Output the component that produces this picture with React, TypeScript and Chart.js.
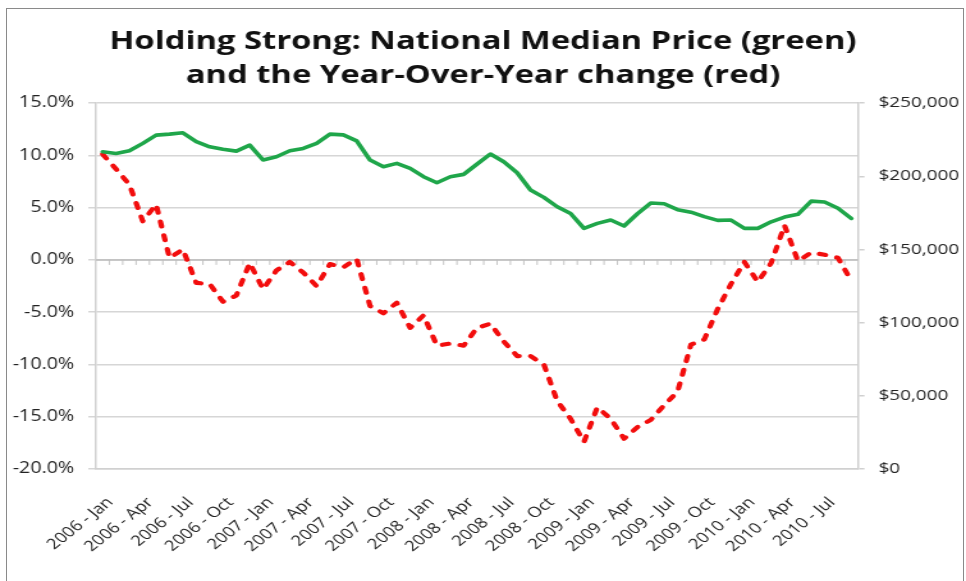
import React, { useEffect, useRef } from 'react';
import { Chart, registerables } from 'chart.js';

Chart.register(...registerables);

const YEARS = ['2006', '2007', '2008', '2009', '2010'];
const MONTHS = ['Jan', 'Feb', 'Mar', 'Apr', 'May', 'Jun', 'Jul', 'Aug', 'Sep', 'Oct', 'Nov', 'Dec'];
const MONTH_COUNT = 57; // Jan 2006 .. Sep 2010
const CATEGORIES: string[] = [];
YEARS.forEach((y) => MONTHS.forEach((m) => CATEGORIES.push(`${y} - ${m}`)));
const LABELS = CATEGORIES.slice(0, MONTH_COUNT);

const TITLE_LINES = [
  'Holding Strong: National Median Price (green)',
  'and the Year-Over-Year change (red)',
];

// Year-over-year change, percent (left axis)
const YOY_CHANGE = [
  10.1, 8.7, 7.2, 3.7, 5.3, 0.2, 1.0, -2.2, -2.3, -4.0, -3.4, -0.3,
  -2.8, -1.0, -0.2, -1.2, -2.5, -0.4, -0.7, 0.1, -4.4, -5.1, -4.1, -6.5,
  -5.3, -8.2, -8.0, -8.2, -6.5, -6.1, -7.8, -9.2, -9.2, -10.0, -13.5, -15.2,
  -17.4, -14.1, -15.2, -17.1, -16.0, -15.3, -13.9, -12.6, -8.1, -7.6, -4.7, -2.3,
  -0.2, -2.1, -0.3, 3.3, -0.1, 0.7, 0.5, 0.2, -2.0,
];

// National median price, dollars (right axis)
const MEDIAN_PRICE = [
  216700, 215600, 217400, 222500, 228100, 228800, 229700, 223600, 220100, 218400, 217200, 221300,
  211100, 213300, 217400, 219000, 222500, 228800, 228300, 224200, 211100, 206500, 208800, 205400,
  199700, 195600, 199700, 201300, 208300, 215200, 209900, 202400, 190600, 185600, 179200, 174600,
  164400, 167800, 170100, 166000, 174400, 181700, 181200, 177200, 175500, 172400, 169900, 170100,
  164400, 164400, 168900, 172100, 174000, 183000, 182400, 178100, 171200,
];

const PCT_MIN = -20;
const PCT_MAX = 15;
const PCT_STEP = 5;
const PRICE_MIN = 0;
const PRICE_MAX = 250000;
const PRICE_STEP = 50000;

const FONT = '"Open Sans", Lato, sans-serif';

// The reference picture is horizontally stretched; draw narrower and stretch with CSS.
const VIEW_W = 966;
const VIEW_H = 581;
const STRETCH = 1.28;
const CANVAS_W = Math.round(VIEW_W / STRETCH);

const zeroAxisPlugin = {
  id: 'zeroAxis',
  beforeDatasetsDraw(chart: any) {
    const { ctx, chartArea, scales } = chart;
    const y0 = scales.y.getPixelForValue(0);
    const xs = scales.x;
    const w = xs.getPixelForValue(1) - xs.getPixelForValue(0);
    ctx.save();
    ctx.strokeStyle = '#bdbdbd';
    ctx.lineWidth = 1.5;
    ctx.beginPath();
    ctx.moveTo(chartArea.left, y0);
    ctx.lineTo(chartArea.right, y0);
    ctx.stroke();
    ctx.lineWidth = 0.9;
    for (let i = 0; i < LABELS.length - 1; i++) {
      const x = xs.getPixelForValue(i) + w / 2;
      ctx.beginPath();
      ctx.moveTo(x, y0);
      ctx.lineTo(x, y0 + 5);
      ctx.stroke();
    }
    ctx.restore();
  },
};

export default function App() {
  const ref = useRef<HTMLCanvasElement | null>(null);

  useEffect(() => {
    if (!ref.current) return;
    const chart = new Chart(ref.current, {
      type: 'line',
      data: {
        labels: LABELS,
        datasets: [
          {
            label: 'Median Price',
            data: MEDIAN_PRICE,
            yAxisID: 'y1',
            borderColor: '#1fa64a',
            borderWidth: 3.6,
            pointRadius: 0,
            tension: 0,
            borderJoinStyle: 'round',
            borderCapStyle: 'round',
          },
          {
            label: 'YoY change',
            data: YOY_CHANGE,
            yAxisID: 'y',
            borderColor: '#f20d0d',
            borderWidth: 4.2,
            borderDash: [5, 9],
            borderCapStyle: 'round',
            borderJoinStyle: 'round',
            pointRadius: 0,
            tension: 0,
          },
        ],
      },
      options: {
        responsive: false,
        animation: false,
        layout: { padding: 0 },
        plugins: {
          legend: { display: false },
          tooltip: { enabled: false },
          title: {
            display: true,
            text: TITLE_LINES,
            color: '#111',
            font: { family: FONT, size: 25.6, weight: 'bold', lineHeight: 1.33 },
            padding: { top: 25, bottom: 10 },
          },
        },
        scales: {
          x: {
            type: 'category',
            offset: true,
            grid: { display: false, drawTicks: false },
            border: { display: true, color: '#d0d0d0', width: 1.5 },
            ticks: {
              autoSkip: false,
              minRotation: 45,
              maxRotation: 45,
              padding: 25,
              labelOffset: 6,
              color: '#222',
              font: { family: FONT, size: 14.5 },
              callback: (_v: any, i: number) => (i % 3 === 0 ? LABELS[i] : ''),
            },
            afterFit: (s: any) => { s.height = VIEW_H - 469; },
          },
          y: {
            position: 'left',
            min: PCT_MIN,
            max: PCT_MAX,
            ticks: {
              stepSize: PCT_STEP,
              padding: 11,
              color: '#222',
              font: { family: FONT, size: 15.4 },
              callback: (v: any) => `${Number(v).toFixed(1)}%`,
            },
            grid: { color: '#d6d6d6', lineWidth: 1.5, tickLength: 6 },
            border: { display: true, color: '#d0d0d0', width: 1.5 },
            afterFit: (s: any) => { s.width = 96 / STRETCH; },
          },
          y1: {
            position: 'right',
            min: PRICE_MIN,
            max: PRICE_MAX,
            ticks: {
              stepSize: PRICE_STEP,
              padding: 11,
              color: '#222',
              font: { family: FONT, size: 14.8 },
              callback: (v: any) => `$${Number(v).toLocaleString('en-US')}`,
            },
            grid: { drawOnChartArea: false, color: '#d0d0d0', lineWidth: 1.5, tickLength: 5 },
            border: { display: true, color: '#d0d0d0', width: 1.5 },
            afterFit: (s: any) => { s.width = (VIEW_W - 858) / STRETCH; },
          },
        },
      },
      plugins: [zeroAxisPlugin],
    });
    return () => chart.destroy();
  }, []);

  return (
    <div style={{ position: 'absolute', left: 0, top: 0, width: VIEW_W, height: VIEW_H, overflow: 'hidden', background: '#fff' }}>
      <canvas
        ref={ref}
        width={CANVAS_W}
        height={VIEW_H}
        style={{ position: 'absolute', left: 0, top: 0, width: VIEW_W, height: VIEW_H }}
      />
      <div
        style={{
          position: 'absolute',
          left: 6,
          top: 8,
          width: 956,
          height: 640,
          border: '1.5px solid #8a8a8a',
          pointerEvents: 'none',
        }}
      />
    </div>
  );
}
